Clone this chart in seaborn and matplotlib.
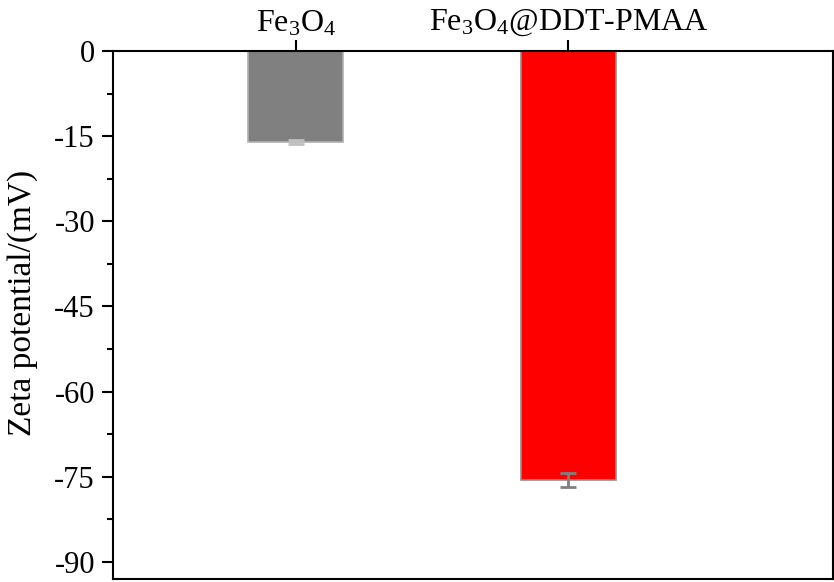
import pandas as pd
import matplotlib
matplotlib.use("Agg")
import matplotlib.pyplot as plt
from matplotlib.ticker import MultipleLocator
import seaborn as sns

# data
samples = ["Fe$_3$O$_4$", "Fe$_3$O$_4$@DDT-PMAA"]
zeta = [-16.0, -75.6]
zeta_err = [0.3, 1.2]
bar_colors = ["#808080", "#ff0000"]
err_colors = ["#c0c0c0", "#808080"]

sns.set_theme(style="white")
plt.rcParams["font.family"] = ["Liberation Serif", "DejaVu Serif"]
plt.rcParams["mathtext.fontset"] = "custom"
plt.rcParams["mathtext.rm"] = "Liberation Serif"
plt.rcParams["mathtext.it"] = "Liberation Serif:italic"
plt.rcParams["axes.unicode_minus"] = False
plt.rcParams["text.color"] = "black"
plt.rcParams["axes.labelcolor"] = "black"
plt.rcParams["xtick.color"] = "black"
plt.rcParams["ytick.color"] = "black"

df = pd.DataFrame({"Sample": samples, "Zeta": zeta})

fig = plt.figure(figsize=(8.34, 5.82), dpi=100)
ax = fig.add_axes([113 / 834, 1 - 579 / 582, 720 / 834, 528 / 582])

sns.barplot(data=df, x="Sample", y="Zeta", hue="Sample", palette=bar_colors,
            width=0.35, legend=False, ax=ax, errorbar=None, saturation=1)
for i, p in enumerate(ax.patches):
    p.set_edgecolor("#b0b0b0" if i == 0 else "#909090")
    p.set_linewidth(1.2)

# error bars, one per sample
for i in range(len(samples)):
    ax.errorbar(i, zeta[i], yerr=zeta_err[i], fmt="none",
                ecolor=err_colors[i], elinewidth=2, capsize=6, capthick=2)

ax.set_xlim(-0.67, 1.97)
ax.set_ylim(-93, 0)
ax.yaxis.set_major_locator(MultipleLocator(15))
ax.yaxis.set_minor_locator(MultipleLocator(7.5))

ax.xaxis.tick_top()
ax.xaxis.set_label_position("top")
ax.set_xlabel("")
ax.set_ylabel("Zeta potential/(mV)", fontsize=24)
ax.yaxis.set_label_coords(-75 / 720, (579 - 303) / 528)
ax.tick_params(axis="x", which="major", direction="out", length=8, width=1.5,
               labelsize=23, pad=1)
ax.tick_params(axis="y", which="major", direction="out", length=8, width=1.5,
               labelsize=22, left=True, pad=5)
ax.tick_params(axis="y", which="minor", direction="out", length=4, width=1.5, left=True)

for s in ax.spines.values():
    s.set_color("black")
    s.set_linewidth(1.5)

fig.savefig("out.png", dpi=100)
